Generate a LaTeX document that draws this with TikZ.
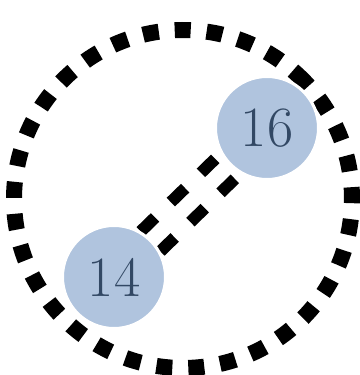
\documentclass[tikz,border=0pt]{standalone}
\usepackage{fontspec}
\definecolor{nodefill}{RGB}{176,196,222}
\definecolor{nodetext}{RGB}{50,72,100}
\tikzset{
  num/.style={circle, fill=nodefill, draw=white, line width=3pt, minimum size=103pt, inner sep=0pt,
    text=nodetext, font=\fontsize{57}{60}\selectfont},
  ring/.style={line width=16pt, dash pattern=on 16pt off 16pt},
  link/.style={line width=12pt, dash pattern=on 20pt off 22pt, dash phase=33pt}
}
\begin{document}
\begin{tikzpicture}[x=1pt,y=1pt]
\useasboundingbox (0,0) rectangle (359,375);
\coordinate (c) at (183,176);
\draw[ring] (c) ++(44:169) arc[start angle=44, end angle=404, radius=169];
\coordinate (pa) at (114,98);
\coordinate (pb) at (267,247);
\draw[link, transform canvas={shift={(-9.8pt,10pt)}}] (pa) -- (pb);
\draw[link, transform canvas={shift={(9.8pt,-10pt)}}] (pa) -- (pb);
\node[num] (a) at (pa) {14};
\node[num] (b) at (pb) {16};
\end{tikzpicture}
\end{document}
